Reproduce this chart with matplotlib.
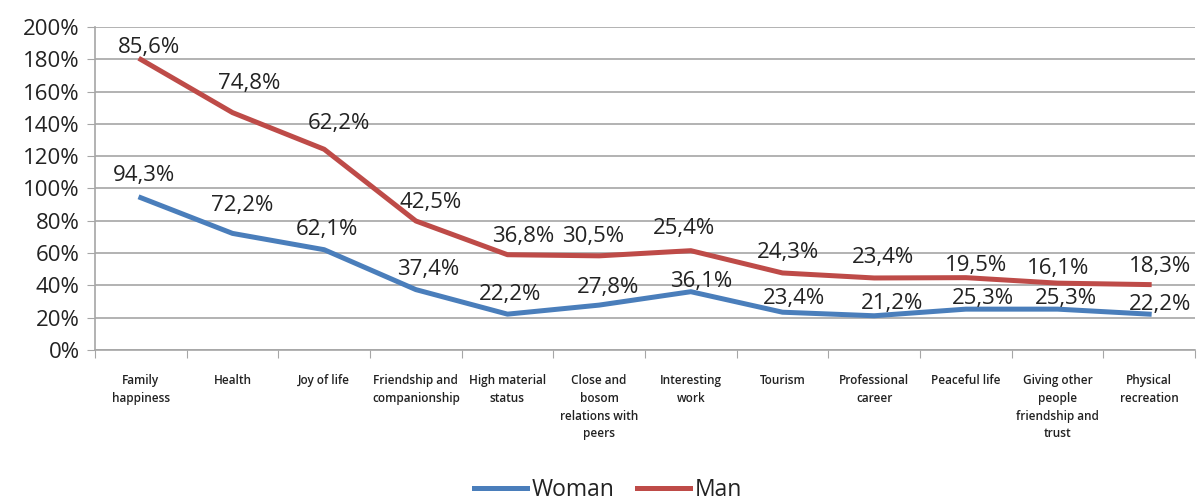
import numpy as np
import matplotlib
matplotlib.use("Agg")
import matplotlib.pyplot as plt
from matplotlib.ticker import FixedLocator

# values (percent); the chart is a stacked line chart
categories = ["Family\nhappiness", "Health", "Joy of life", "Friendship and\ncompanionship",
              "High material\nstatus", "Close and\nbosom\nrelations with\npeers",
              "Interesting\nwork", "Tourism", "Professional\ncareer", "Peaceful life",
              "Giving other\npeople\nfriendship and\ntrust", "Physical\nrecreation"]
woman = [94.3, 72.2, 62.1, 37.4, 22.2, 27.8, 36.1, 23.4, 21.2, 25.3, 25.3, 22.2]
man = [85.6, 74.8, 62.2, 42.5, 36.8, 30.5, 25.4, 24.3, 23.4, 19.5, 16.1, 18.3]
yticks = [0, 20, 40, 60, 80, 100, 120, 140, 160, 180, 200]

# label nudges in pixels (dx, dy up), as placed in the original
woman_off = [(3, 22), (10, 28), (3, 20), (12, 20), (3, 20), (9, 18), (10, 10),
             (11, 14), (18, 12), (17, 11), (8, 11), (11, 10)]
man_off = [(8, 12), (17, 29), (15, 26), (15, 18), (16, 18), (-6, 19), (-7, 22),
           (6, 20), (9, 20), (10, 12), (1, 15), (11, 18)]

plt.rcParams['font.family'] = ['Open Sans', 'DejaVu Sans']

W, H = 1204, 504
fig = plt.figure(figsize=(W / 100, H / 100), dpi=100)
ax = fig.add_axes([95 / W, (H - 350) / H, 1100 / W, 323 / H])

x = np.arange(len(categories))
woman = np.array(woman)
top = woman + np.array(man)

blue = "#4A7EBB"
red = "#BE4B48"
ax.plot(x, woman, color=blue, lw=3.6, solid_joinstyle='round', label="Woman", zorder=3)
ax.plot(x, top, color=red, lw=3.6, solid_joinstyle='round', label="Man", zorder=3)

ax.set_xlim(-0.5, len(categories) - 0.5)
ax.set_ylim(0, 200)
ax.set_yticks(yticks)
ax.set_yticklabels([f"{v}%" for v in yticks], fontsize=16, color="#222222")
ax.yaxis.grid(True, color="#A6A6A6", lw=1.2)
ax.set_axisbelow(True)
ax.tick_params(axis='y', length=6, color="#A6A6A6", pad=5)

ax.xaxis.set_major_locator(FixedLocator(np.arange(-0.5, len(categories), 1.0)))
ax.tick_params(axis='x', length=6, color="#A6A6A6", labelbottom=False)

for s in ["top", "right"]:
    ax.spines[s].set_visible(False)
for s in ["left", "bottom"]:
    ax.spines[s].set_color("#A6A6A6")
    ax.spines[s].set_linewidth(1.2)

# category labels below the axis
for i, c in enumerate(categories):
    ax.annotate(c, (i, 0), xytext=(0, -24), textcoords='offset pixels',
                ha='center', va='top', fontsize=8.5, linespacing=1.48,
                color="#222222", fontweight='semibold')

# data labels
def fmt(v):
    return f"{v:.1f}%".replace(".", ",")

for i in range(len(categories)):
    dx, dy = woman_off[i]
    ax.annotate(fmt(woman[i]), (x[i], woman[i]), xytext=(dx, dy),
                textcoords='offset pixels', ha='center', va='center',
                fontsize=16, color="#222222", zorder=4)
    dx, dy = man_off[i]
    ax.annotate(fmt(man[i]), (x[i], top[i]), xytext=(dx, dy),
                textcoords='offset pixels', ha='center', va='center',
                fontsize=16, color="#222222", zorder=4)

leg = fig.legend(loc='center', bbox_to_anchor=(608 / W, (H - 490) / H), ncol=2,
                 frameon=False, fontsize=16.5, handlelength=2.3, handletextpad=0.2,
                 columnspacing=1.0, borderaxespad=0)
for t in leg.get_texts():
    t.set_color("#222222")

fig.savefig("out.png", dpi=100)
